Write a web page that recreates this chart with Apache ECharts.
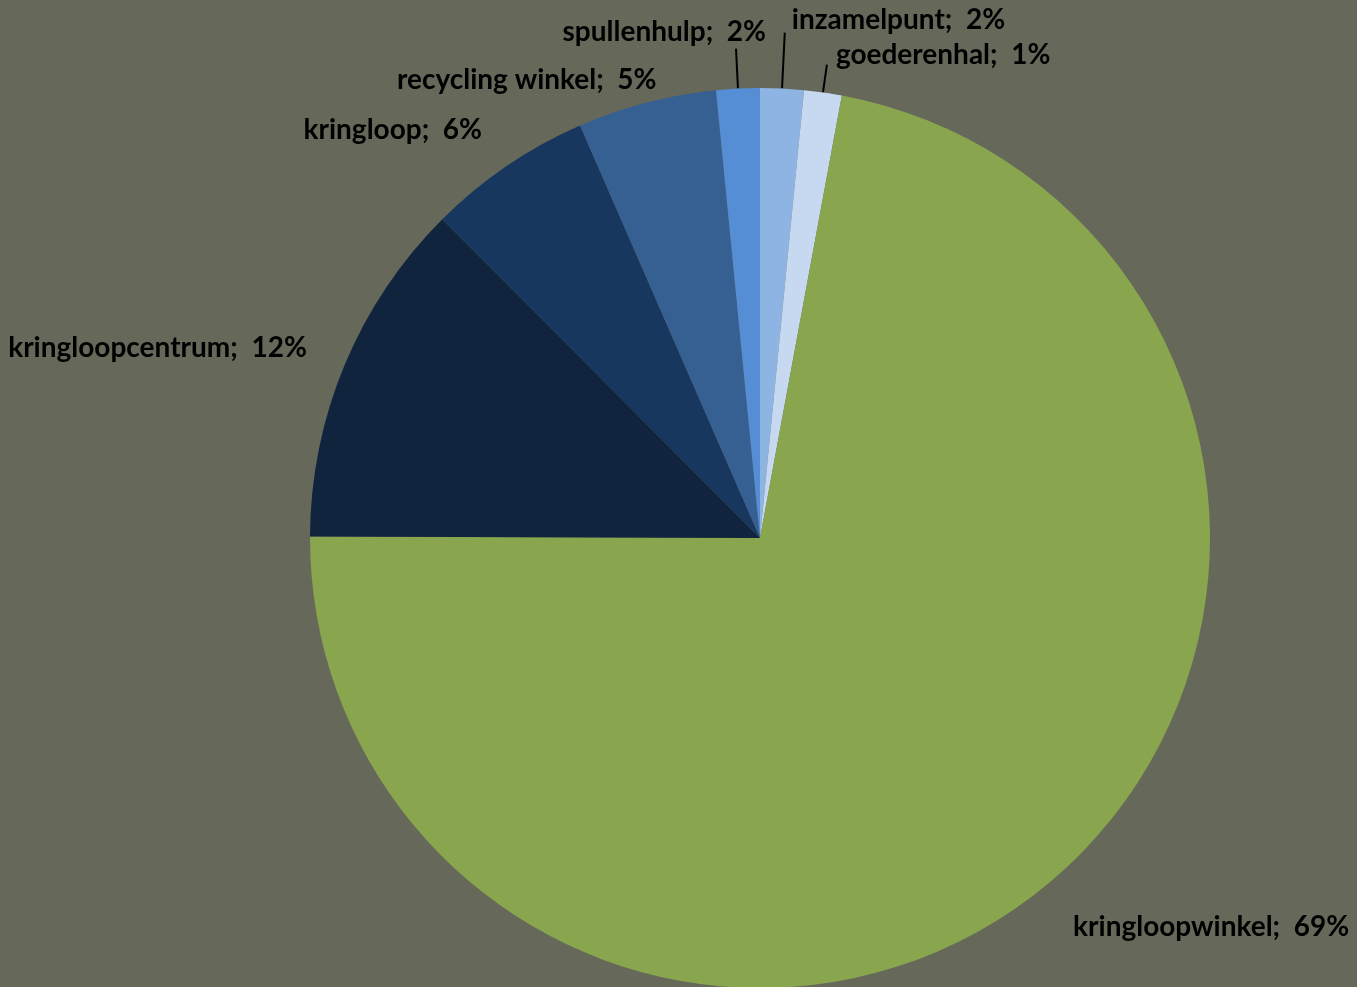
<!DOCTYPE html>
<html>
<head>
<meta charset="utf-8">
<script src="https://cdn.jsdelivr.net/npm/echarts@6/dist/echarts.min.js"></script>
<style>
html,body{margin:0;padding:0;background:#66685a;}
#c{width:1357px;height:987px;}
</style>
</head>
<body>
<div id="c"></div>
<script>
const categories = ['inzamelpunt','goederenhal','kringloopwinkel','kringloopcentrum','kringloop','recycling winkel','spullenhulp'];
const values = [1.5, 1.3, 69.4, 12.0, 5.7, 4.8, 1.5];
const colors = ['#8eb4e3','#c6d9f1','#89a54e','#10243e','#17375e','#366092','#558ed5'];

// label layout tweaks (offset from default outside position), leader-line visibility and length
const labelShift = [[2,-13],[4,-10],[3,21],[-7,-6],[-4,-13],[22,5],[35,-17]];
const withLine = [true, true, false, false, false, false, true];
const lineLen = [56, 28, 28, 28, 28, 28, 40];

const chart = echarts.init(document.getElementById('c'));
chart.setOption({
  backgroundColor: '#66685a',
  animation: false,
  series: [{
    type: 'pie',
    center: [760, 538],
    radius: 450,
    startAngle: 90,
    clockwise: true,
    avoidLabelOverlap: false,
    itemStyle: { borderWidth: 0 },
    label: {
      show: true,
      position: 'outside',
      color: '#000',
      fontFamily: 'Lato',
      fontWeight: 'bold',
      fontSize: 28,
      formatter: p => p.name + ';  ' + Math.round(p.value) + '%'
    },
    labelLine: { show: true, length: 28, length2: 0, lineStyle: { color: '#000', width: 2 } },
    labelLayout: p => ({ dx: labelShift[p.dataIndex][0], dy: labelShift[p.dataIndex][1], hideOverlap: false }),
    data: categories.map((n, i) => ({
      name: n, value: values[i],
      itemStyle: { color: colors[i] },
      labelLine: { show: withLine[i], length: lineLen[i], length2: 0 }
    }))
  }]
});
</script>
</body>
</html>
